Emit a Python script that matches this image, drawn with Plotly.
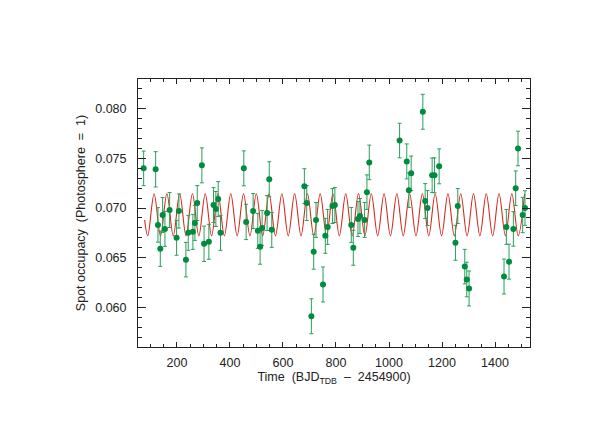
import plotly.graph_objects as go

time = [74.3, 119.5, 128.3, 137.1, 145.9, 154.7, 172.3, 198.6, 207.4, 233.8,
        242.6, 260.1, 267.7, 276.5, 294.0, 302.2, 320.4, 338.0, 346.8, 355.6,
        364.3, 452.2, 461.0, 487.4, 505.0, 513.7, 521.3, 540.1, 548.2, 557.7,
        680.7, 689.6, 707.1, 715.9, 724.7, 751.0, 759.8, 768.6, 786.6, 795.8,
        857.7, 865.3, 882.9, 890.4, 908.0, 916.8, 925.6, 1040.0, 1067.0, 1075.0,
        1083.7, 1127.7, 1136.5, 1145.3, 1162.8, 1171.6, 1189.2, 1250.7, 1259.5, 1285.9,
        1293.4, 1302.2, 1434.0, 1442.8, 1452.9, 1469.2, 1478.0, 1486.8, 1504.3, 1513.1]
occupancy = [0.0740, 0.0739, 0.0683, 0.0659, 0.0693, 0.0679, 0.0698, 0.0670, 0.0697, 0.0648,
             0.0675, 0.0676, 0.0685, 0.0705, 0.0743, 0.0664, 0.0666, 0.0703, 0.0699, 0.0709,
             0.0675, 0.0740, 0.0686, 0.0697, 0.0677, 0.0661, 0.0680, 0.0695, 0.0729, 0.0678,
             0.0722, 0.0705, 0.0591, 0.0656, 0.0688, 0.0623, 0.0672, 0.0681, 0.0702, 0.0703,
             0.0683, 0.0660, 0.0689, 0.0692, 0.0688, 0.0716, 0.0746, 0.0768, 0.0747, 0.0718,
             0.0735, 0.0797, 0.0707, 0.0700, 0.0733, 0.0733, 0.0742, 0.0665, 0.0702, 0.0641,
             0.0628, 0.0619, 0.0631, 0.0681, 0.0646, 0.0679, 0.0720, 0.0760, 0.0693, 0.0700]
occupancy_err = [0.00174, 0.00178, 0.00174, 0.00178, 0.00176, 0.00176, 0.00176, 0.00176, 0.00172, 0.00174,
                 0.00176, 0.00176, 0.00176, 0.00176, 0.00176, 0.00178, 0.00176, 0.00176, 0.00176, 0.00176,
                 0.00176, 0.00176, 0.00178, 0.00176, 0.00176, 0.00176, 0.00176, 0.00176, 0.00176, 0.00176,
                 0.00176, 0.00176, 0.00176, 0.00176, 0.00176, 0.00176, 0.00176, 0.00176, 0.00176, 0.00176,
                 0.00176, 0.00176, 0.00176, 0.00176, 0.00176, 0.00174, 0.00174, 0.00174, 0.00176, 0.00174,
                 0.00174, 0.00176, 0.00176, 0.00176, 0.00174, 0.00176, 0.00176, 0.00176, 0.00176, 0.00174,
                 0.00174, 0.00176, 0.00176, 0.00176, 0.00176, 0.00174, 0.00174, 0.00174, 0.00178, 0.00174]

# red model curve: start point, then alternating troughs / peaks
model_start_t = 78.0
model_start_y = 0.0688
trough_t = [89.7, 137.9, 186.1, 234.3, 282.5, 330.7, 378.9, 427.1, 475.3, 523.5,
            571.7, 619.9, 668.1, 716.3, 764.5, 812.7, 860.9, 909.1, 957.3, 1005.5,
            1053.7, 1101.9, 1150.1, 1198.3, 1246.5, 1294.7, 1342.9, 1391.1, 1439.3, 1487.5]
peak_t = [113.8, 162.0, 210.2, 258.4, 306.6, 354.8, 403.0, 451.2, 499.4, 547.6,
          595.8, 644.0, 692.2, 740.4, 788.6, 836.8, 885.0, 933.2, 981.4, 1029.6,
          1077.8, 1126.0, 1174.2, 1222.4, 1270.6, 1318.8, 1367.0, 1415.2, 1463.4, 1511.6]
trough_y = 0.06720
peak_y = 0.07144

model = sorted([(model_start_t, model_start_y)]
               + [(t, trough_y) for t in trough_t]
               + [(t, peak_y) for t in peak_t])
model_t = [m[0] for m in model]
model_y = [m[1] for m in model]

FONT = "Liberation Sans, Arial, sans-serif"
INK = "#222222"

fig = go.Figure()

fig.add_trace(go.Scatter(
    x=model_t, y=model_y,
    mode="lines",
    line=dict(color="#d42a1e", width=1.1, shape="spline", smoothing=1.0),
    hoverinfo="skip",
))

fig.add_trace(go.Scatter(
    x=time, y=occupancy,
    mode="markers",
    marker=dict(color="#008c3f", size=6),
    error_y=dict(type="data", array=occupancy_err, visible=True,
                 color="#2a9f5a", thickness=1, width=2),
))

fig.update_xaxes(
    range=[53, 1532],
    tickvals=[200, 400, 600, 800, 1000, 1200, 1400],
    ticks="inside", ticklen=5, tickwidth=1, tickcolor=INK,
    minor=dict(dtick=50, tick0=0, ticks="inside", ticklen=3, tickcolor=INK),
    showline=True, linecolor=INK, linewidth=1, mirror="allticks",
    showgrid=False, zeroline=False,
    tickfont=dict(size=12.5, color=INK, family=FONT),
    ticklabelstandoff=4,
    title=dict(text="Time  (BJD<sub>TDB</sub>  –  2454900)",
               font=dict(size=12.5, color=INK, family=FONT), standoff=2),
)
fig.update_yaxes(
    range=[0.056, 0.083],
    tickvals=[0.060, 0.065, 0.070, 0.075, 0.080],
    tickformat=".3f",
    ticks="inside", ticklen=8, tickwidth=1, tickcolor=INK,
    minor=dict(dtick=0.001, tick0=0, ticks="inside", ticklen=4, tickcolor=INK),
    showline=True, linecolor=INK, linewidth=1, mirror="allticks",
    showgrid=False, zeroline=False,
    tickfont=dict(size=12.5, color=INK, family=FONT),
    ticklabelstandoff=8,
    title=dict(text="Spot occupacy  (Photosphere  =  1)",
               font=dict(size=12.5, color=INK, family=FONT), standoff=6),
)

# page body adds an 8px offset, so margins are shifted to land the frame where the reference has it
fig.update_layout(
    width=599, height=436,
    margin=dict(l=130, r=77, t=71, b=97),
    paper_bgcolor="white", plot_bgcolor="white",
    showlegend=False,
)

fig.write_html("out.html")
